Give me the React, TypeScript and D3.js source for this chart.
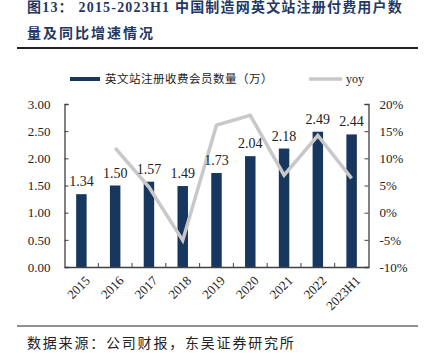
import React, { useEffect, useRef } from "react";
import * as d3 from "d3";

const years = ["2015", "2016", "2017", "2018", "2019", "2020", "2021", "2022", "2023H1"];
const members = [1.34, 1.5, 1.57, 1.49, 1.73, 2.04, 2.18, 2.49, 2.44];
const yoy = [null, 11.9, 4.7, -5.1, 16.1, 17.9, 6.9, 14.2, 6.3];
const leftTicks = [0, 0.5, 1, 1.5, 2, 2.5, 3];
const rightTicks = [-10, -5, 0, 5, 10, 15, 20];

const serif = "'Liberation Serif', 'Times New Roman', serif";
const cjk = "'Liberation Serif', 'Noto Sans CJK SC', serif";
const navy = "#17375e";
const grey = "#c8c8c8";
const axisColor = "#404040";

const App = () => {
  const svgRef = useRef<SVGSVGElement>(null);

  useEffect(() => {
    const svg = d3.select(svgRef.current);
    svg.selectAll("*").remove();

    const left = 64.5, right = 368.5, top = 104, bottom = 267;

    const x = d3.scaleBand().domain(years).range([left, right]);
    const y = d3.scaleLinear().domain([0, 3]).range([bottom, top]);
    const y2 = d3.scaleLinear().domain([-10, 20]).range([bottom, top]);
    const barW = x.bandwidth() * 0.31;

    // title
    svg.append("text")
      .attr("x", 27).attr("y", 11.5)
      .attr("fill", "#1f3864").attr("font-family", cjk)
      .attr("font-size", 14).attr("font-weight", "bold").attr("letter-spacing", 1.2)
      .text("图13：  2015-2023H1 中国制造网英文站注册付费用户数");
    svg.append("text")
      .attr("x", 27).attr("y", 38)
      .attr("fill", "#1f3864").attr("font-family", cjk)
      .attr("font-size", 14).attr("font-weight", "bold").attr("letter-spacing", 2)
      .text("量及同比增速情况");
    svg.append("line")
      .attr("x1", 17).attr("x2", 418).attr("y1", 48).attr("y2", 48)
      .attr("stroke", "#222").attr("stroke-width", 2);

    // legend
    svg.append("rect").attr("x", 70).attr("y", 77).attr("width", 30).attr("height", 4).attr("fill", navy);
    svg.append("text")
      .attr("x", 105).attr("y", 83)
      .attr("font-family", cjk).attr("font-size", 11.5).attr("fill", "#222").attr("letter-spacing", 0.5)
      .text("英文站注册收费会员数量（万）");
    svg.append("line")
      .attr("x1", 309).attr("x2", 342).attr("y1", 79).attr("y2", 79)
      .attr("stroke", grey).attr("stroke-width", 3.5);
    svg.append("text")
      .attr("x", 346).attr("y", 83)
      .attr("font-family", serif).attr("font-size", 12).attr("fill", "#222")
      .text("yoy");

    // bars
    svg.append("g")
      .selectAll("rect")
      .data(members)
      .join("rect")
      .attr("x", (d, i) => x(years[i])! + x.bandwidth() / 2 - barW / 2)
      .attr("width", barW)
      .attr("y", (d) => y(d))
      .attr("height", (d) => bottom - y(d))
      .attr("fill", navy);

    // line
    const line = d3.line<number | null>()
      .defined((d) => d !== null)
      .x((d, i) => x(years[i])! + x.bandwidth() / 2)
      .y((d) => y2(d as number));
    svg.append("path")
      .datum(yoy)
      .attr("d", line)
      .attr("fill", "none")
      .attr("stroke", grey)
      .attr("stroke-width", 3.5)
      .attr("stroke-linejoin", "miter");

    // value labels
    svg.append("g")
      .selectAll("text")
      .data(members)
      .join("text")
      .attr("x", (d, i) => x(years[i])! + x.bandwidth() / 2)
      .attr("y", (d) => y(d) - 8)
      .attr("text-anchor", "middle")
      .attr("font-family", serif).attr("font-size", 14).attr("fill", "#222")
      .text((d) => d.toFixed(2));

    // axes
    const xAxis = d3.axisBottom(x).tickSize(0).tickFormat(() => "");
    const gx = svg.append("g").attr("transform", `translate(0,${bottom})`).call(xAxis);
    gx.select(".domain").attr("stroke", axisColor).attr("stroke-width", 1.3);
    svg.append("g")
      .selectAll("line")
      .data(years.slice(1))
      .join("line")
      .attr("x1", (d) => x(d)!).attr("x2", (d) => x(d)!)
      .attr("y1", bottom).attr("y2", bottom - 4)
      .attr("stroke", axisColor);
    svg.append("g")
      .selectAll("text")
      .data(years)
      .join("text")
      .attr("transform", (d) => `translate(${x(d)! + x.bandwidth() / 2 + 3},${bottom + 8}) rotate(-45)`)
      .attr("text-anchor", "end")
      .attr("dy", "0.7em")
      .attr("font-family", serif).attr("font-size", 13).attr("fill", "#222")
      .text((d) => d);

    const yAxis = d3.axisLeft(y).tickValues(leftTicks).tickSize(-4).tickPadding(14).tickFormat((d) => (d as number).toFixed(2));
    const gy = svg.append("g").attr("transform", `translate(${left},0)`).call(yAxis);
    gy.select(".domain").attr("stroke", axisColor).attr("stroke-width", 1.3);
    gy.selectAll(".tick line").attr("stroke", axisColor);
    gy.selectAll(".tick text").attr("font-family", serif).attr("font-size", 13).attr("fill", "#222");

    const yAxis2 = d3.axisRight(y2).tickValues(rightTicks).tickSize(-4).tickPadding(11).tickFormat((d) => `${d}%`);
    const gy2 = svg.append("g").attr("transform", `translate(${right},0)`).call(yAxis2);
    gy2.select(".domain").attr("stroke", axisColor).attr("stroke-width", 1.3);
    gy2.selectAll(".tick line").attr("stroke", axisColor);
    gy2.selectAll(".tick text").attr("font-family", serif).attr("font-size", 13).attr("fill", "#222");

    // footer
    svg.append("line")
      .attr("x1", 17).attr("x2", 418).attr("y1", 326).attr("y2", 326)
      .attr("stroke", "#222").attr("stroke-width", 1);
    svg.append("text")
      .attr("x", 27).attr("y", 348)
      .attr("font-family", cjk).attr("font-size", 14).attr("fill", "#222").attr("letter-spacing", 1.8)
      .text("数据来源：公司财报，东吴证券研究所");
  }, []);

  return (
    <svg
      ref={svgRef}
      width={429}
      height={353}
      style={{ position: "absolute", left: 0, top: 0, background: "#fff" }}
    />
  );
};

export default App;
